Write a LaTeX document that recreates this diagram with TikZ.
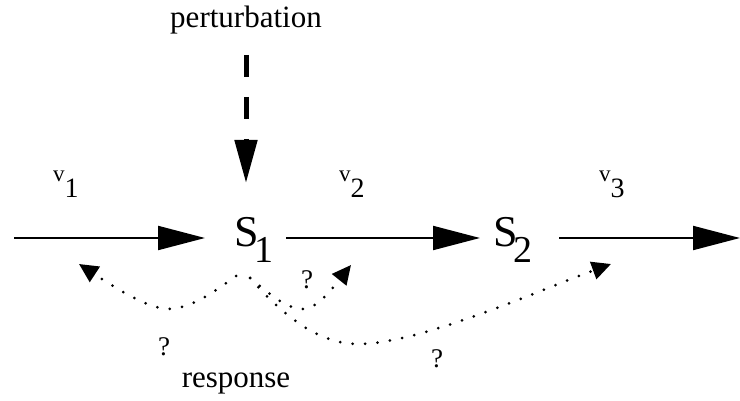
\documentclass[tikz,border=0pt]{standalone}
\usepackage{fontspec}
\setmainfont{Liberation Serif}
\usetikzlibrary{arrows.meta, positioning, calc}
\newcommand{\speciesidx}[1]{\kern-4pt\raisebox{-16pt}{\fontsize{38}{38}\selectfont #1}}
\newcommand{\rateidx}[1]{\raisebox{-16pt}{\fontsize{28}{28}\selectfont #1}}

\begin{document}
\begin{tikzpicture}[
    x=1pt, y=-1pt,
    every node/.style={inner sep=0pt, outer sep=0pt},
    species/.style={
        anchor=west,
        text height=34pt,
        text depth=16pt,
        font=\fontsize{44}{44}\selectfont
    },
    rate/.style={
        anchor=base west,
        font=\fontsize{23}{23}\selectfont
    },
    caption/.style={
        anchor=base,
        font=\fontsize{31}{31}\selectfont
    },
    query/.style={
        anchor=base,
        font=\fontsize{27}{27}\selectfont
    },
    flow/.style={
        line width=2pt,
        -{Triangle[length=47pt, width=24pt]}
    },
    shock/.style={
        line width=5pt,
        dash pattern=on 22pt off 20pt,
        -{Triangle[length=43pt, width=22pt]}
    },
    probe/.style={
        line width=3pt,
        line cap=round,
        dash pattern=on 0pt off 12.5pt,
        -{Triangle[length=19pt, width=18pt]}
    }
]
\useasboundingbox (0,0) rectangle (740,401);

% ==================== PERTURBATION ====================
\node (pert) [caption] at (246,28) {perturbation};
\coordinate (kick) at (246,55);
\coordinate (hit) at (246,183);

% ==================== PATHWAY ====================
\coordinate (feed) at (14,238);
\node (s1) [species] at (234,238) {S\speciesidx{1}};
\node (s2) [species] at (493,238) {S\speciesidx{2}};
\coordinate (drain) at (740,238);

\node (v1) [rate] at (53,182) {v\rateidx{1}};
\node (v2) [rate] at (339,182) {v\rateidx{2}};
\node (v3) [rate] at (599,182) {v\rateidx{3}};

% ==================== RESPONSE ====================
\coordinate (r1) at (236,276);
\coordinate (r2) at (250,278);
\coordinate (low1) at (168,309);
\coordinate (low2) at (303,309);
\coordinate (low3) at (358,344);
\coordinate (back1) at (79,264);
\coordinate (back2) at (351,265);
\coordinate (back3) at (611,264);

\node (q1) [query] at (164,355) {?};
\node (q2) [query] at (307,289) {?};
\node (q3) [query] at (437,367) {?};
\node (resp) [caption] at (236,387) {response};

% ==================== CONNECTIONS ====================
\draw [shock] (kick) -- (hit);

\draw [flow] (feed) -- ([xshift=-29pt]s1.west);
\draw [flow] ([xshift=13pt]s1.east) -- ([xshift=-13pt]s2.west);
\draw [flow] ([xshift=27pt]s2.east) -- (drain);

\draw [probe] (r1) .. controls (214,292) and (190,309) .. (low1)
    .. controls (146,309) and (105,281) .. (back1);
\draw [probe] (r2) .. controls (268,292) and (285,309) .. (low2)
    .. controls (318,309) and (335,285) .. (back2);
\draw [probe] (r2) .. controls (285,318) and (320,344) .. (low3)
    .. controls (420,344) and (540,290) .. (back3);

\end{tikzpicture}
\end{document}
